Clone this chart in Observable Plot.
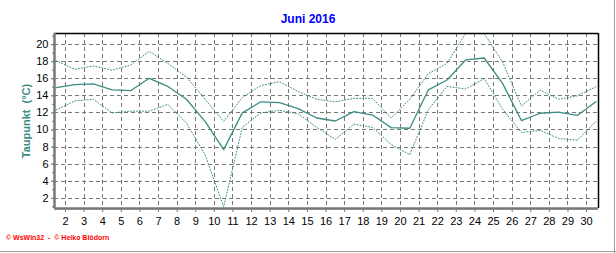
<!DOCTYPE html>
<html>
<head>
<meta charset="utf-8">
<script src="https://cdn.jsdelivr.net/npm/d3@7"></script>
<script src="https://cdn.jsdelivr.net/npm/@observablehq/plot@0.6"></script>
<style>
  html, body { margin: 0; padding: 0; background: #fff; }
  #wrap { position: relative; width: 616px; height: 253px; overflow: hidden; background: #fff; }
  #wrap svg { position: absolute; left: 0; top: 0; }
  .title { position: absolute; left: 0; width: 616px; top: 12px; text-align: center;
           font: bold 12px "Liberation Sans", Arial, sans-serif; color: #0000ff; }
  .ylab { position: absolute; left: 26px; top: 121px; transform: translate(-50%, -50%) rotate(-90deg);
          white-space: pre; font: bold 11px "Liberation Sans", Arial, sans-serif; color: #3c8c82; }
  .foot { position: absolute; left: 6px; top: 234px; white-space: pre;
          font: bold 7px "Liberation Sans", Arial, sans-serif; color: #ff0000; }
  .bR { position: absolute; left: 614px; top: 0; width: 1px; height: 253px; background: #a0a0a0; }
  .bB { position: absolute; left: 0; top: 251px; width: 616px; height: 1px; background: #a0a0a0; }
</style>
</head>
<body>
<div id="wrap">
  <div class="title">Juni 2016</div>
  <div class="ylab">Taupunkt  (°C)</div>
  <div class="foot">© WsWin32  -  © Heiko Blödorn</div>
  <div class="bR"></div>
  <div class="bB"></div>
</div>
<script>
// Days of June 2016
const days = d3.range(1, 31);
// Daily mean dew point (°C)
const meanDew = [14.95, 15.3, 15.4, 14.7, 14.6, 16.05, 15.1, 13.6, 11.0, 7.7,
                 12.0, 13.3, 13.2, 12.5, 11.4, 11.05, 12.15, 11.75, 10.27, 10.2,
                 14.7, 15.85, 18.2, 18.43, 15.4, 11.1, 11.96, 12.1, 11.7, 13.3];
// Daily maximum dew point (°C)
const maxDew = [18.1, 17.1, 17.5, 17.0, 17.6, 19.2, 17.8, 16.2, 13.6, 11.0,
                13.8, 15.2, 15.65, 14.5, 13.6, 13.3, 13.7, 13.7, 11.4, 13.6,
                16.6, 17.8, 21.3, 21.3, 17.9, 12.8, 14.67, 13.6, 14.0, 15.06];
// Daily minimum dew point (°C)
const minDew = [12.35, 13.4, 13.6, 12.0, 12.2, 12.2, 13.0, 10.8, 7.1, 1.0,
                10.3, 12.0, 12.3, 11.9, 10.3, 8.9, 10.67, 10.3, 8.3, 7.1,
                12.4, 15.1, 14.8, 16.0, 12.4, 9.7, 9.96, 9.0, 8.8, 11.0];
// Axis ticks
const xTicks = d3.range(2, 31);
const yTicks = [2, 4, 6, 8, 10, 12, 14, 16, 18, 20];
const xDomain = [1.41, 30.64];
const yDomain = [0.8, 21.3];

const data = days.map((d, i) => ({ t: d + 0.5, mean: meanDew[i], max: maxDew[i], min: minDew[i] }));
const xMinor = d3.range(Math.ceil(xDomain[0] * 6), Math.floor(xDomain[1] * 6) + 1).map(v => v / 6);
const yMinor = d3.range(1, 22).filter(v => v >= yDomain[0] && v <= yDomain[1]);

const teal = "#3c8c82";
const gray = "#787878";

const chart = Plot.plot({
  width: 616,
  height: 253,
  marginLeft: 54,
  marginRight: 18,
  marginTop: 33,
  marginBottom: 45,
  style: { fontFamily: "'Liberation Sans', Arial, sans-serif", fontSize: "11px", background: "transparent", color: "#000" },
  x: { type: "linear", domain: xDomain },
  y: { domain: yDomain },
  marks: [
    Plot.gridX(xTicks, { stroke: gray, strokeOpacity: 1, strokeDasharray: "4,3", shapeRendering: "crispEdges" }),
    Plot.gridY(yTicks, { stroke: gray, strokeOpacity: 1, strokeDasharray: "4,3", shapeRendering: "crispEdges" }),
    Plot.line(data, { x: "t", y: "max", stroke: teal, strokeWidth: 1, strokeDasharray: "1,2", clip: true }),
    Plot.line(data, { x: "t", y: "min", stroke: teal, strokeWidth: 1, strokeDasharray: "1,2", clip: true }),
    Plot.line(data, { x: "t", y: "mean", stroke: teal, strokeWidth: 1.3, clip: true }),
    Plot.ruleY([yDomain[1]], { stroke: "#000", strokeWidth: 1.5 }),
    Plot.ruleX([xDomain[1]], { stroke: "#000", strokeWidth: 1.5 }),
    Plot.ruleX([xDomain[0]], { stroke: gray, strokeWidth: 2.5 }),
    Plot.ruleY([yDomain[0]], { stroke: gray, strokeWidth: 2.5 }),
    Plot.axisX(xMinor, { anchor: "bottom", tickSize: 2, tickFormat: () => "", stroke: gray, label: null }),
    Plot.axisX(xTicks, { anchor: "bottom", tickSize: 4, tickPadding: 5, stroke: gray, fill: "#000", label: null, fontSize: 11 }),
    Plot.axisY(yMinor, { anchor: "left", tickSize: 2, tickFormat: () => "", stroke: gray, label: null }),
    Plot.axisY(yTicks, { anchor: "left", tickSize: 3, tickPadding: 3, stroke: gray, fill: "#000", label: null, fontSize: 11 })
  ]
});
document.getElementById("wrap").prepend(chart);
</script>
</body>
</html>
